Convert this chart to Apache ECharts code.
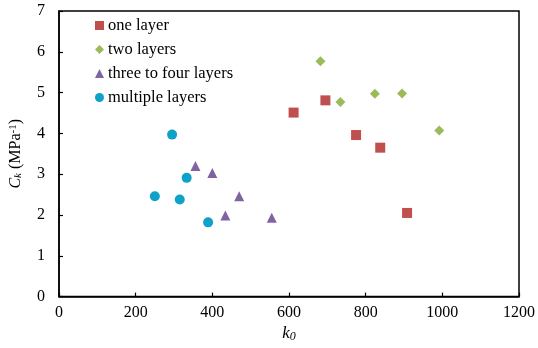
<!DOCTYPE html>
<html>
<head>
<meta charset="utf-8">
<script src="https://cdn.jsdelivr.net/npm/echarts@6/dist/echarts.min.js"></script>
<style>
html,body{margin:0;padding:0;background:#fff;}
#chart{width:538px;height:348px;}
</style>
</head>
<body>
<div id="chart"></div>
<script>
// k0 / Ck 数据
var oneLayer = [[612, 4.51], [695, 4.81], [775, 3.96], [838, 3.65], [908, 2.05]];
var twoLayers = [[682, 5.77], [734, 4.77], [824, 4.97], [895, 4.98], [992, 4.07]];
var threeFourLayers = [[356, 3.20], [400, 3.03], [470, 2.46], [434, 1.99], [555, 1.93]];
var multipleLayers = [[295, 3.97], [333, 2.91], [250, 2.46], [315, 2.38], [389, 1.82]];
var seriesNames = ['one layer', 'two layers', 'three to four layers', 'multiple layers'];

var font = 'Liberation Serif';
var myChart = echarts.init(document.getElementById('chart'));

function mkSeries(name, data, symbol, size, color) {
    return {
        name: name,
        type: 'scatter',
        data: data,
        symbol: symbol,
        symbolSize: size,
        itemStyle: {color: color, opacity: 1}
    };
}

var option = {
    animation: false,
    backgroundColor: '#fff',
    grid: {
        left: 58, right: 16, top: 11, bottom: 50,
        show: true, borderColor: '#000', borderWidth: 1.5
    },
    legend: {
        data: seriesNames,
        orient: 'vertical',
        left: 90, top: 12,
        itemGap: 7,
        itemWidth: 9, itemHeight: 9,
        textStyle: {fontFamily: font, fontSize: 16.5, color: '#000', padding: [0, 0, 0, -1]}
    },
    xAxis: {
        type: 'value',
        min: 0, max: 1200, interval: 200,
        name: '{i|k}{s|0}',
        nameLocation: 'middle',
        nameGap: 27,
        nameTextStyle: {
            rich: {
                i: {fontFamily: font, fontStyle: 'italic', fontSize: 17, color: '#000'},
                s: {fontFamily: font, fontStyle: 'italic', fontSize: 12, color: '#000', verticalAlign: 'bottom', padding: [6, 0, 0, 0]}
            }
        },
        splitLine: {show: false},
        axisLine: {lineStyle: {color: '#000', width: 1.5}},
        axisTick: {inside: true, length: 4, lineStyle: {color: '#000', width: 1.2}},
        axisLabel: {
            fontFamily: font, fontSize: 16, color: '#000', margin: 8,
            formatter: function (v) { return String(v); }
        }
    },
    yAxis: {
        type: 'value',
        min: 0, max: 7, interval: 1,
        name: '{i|C}{s|k}{n| (MPa}{p|-1}{n|)}',
        nameLocation: 'middle',
        nameRotate: 90,
        nameGap: 35,
        nameTextStyle: {
            rich: {
                i: {fontFamily: font, fontStyle: 'italic', fontSize: 16, color: '#000'},
                s: {fontFamily: font, fontStyle: 'italic', fontSize: 11, color: '#000', verticalAlign: 'bottom', padding: [5, 0, 0, 0]},
                n: {fontFamily: font, fontSize: 16, color: '#000'},
                p: {fontFamily: font, fontSize: 11, color: '#000', verticalAlign: 'top', padding: [0, 0, 5, 0]}
            }
        },
        splitLine: {show: false},
        axisLine: {show: true, lineStyle: {color: '#000', width: 1.5}},
        axisTick: {show: true, inside: true, length: 4, lineStyle: {color: '#000', width: 1.2}},
        axisLabel: {fontFamily: font, fontSize: 16, color: '#000', margin: 14}
    },
    series: [
        mkSeries(seriesNames[0], oneLayer, 'rect', 10, '#C0504D'),
        mkSeries(seriesNames[1], twoLayers, 'diamond', 10, '#9BBB59'),
        mkSeries(seriesNames[2], threeFourLayers, 'triangle', 10, '#8064A2'),
        mkSeries(seriesNames[3], multipleLayers, 'circle', 10, '#0FA2C9')
    ]
};
myChart.setOption(option);
</script>
</body>
</html>
